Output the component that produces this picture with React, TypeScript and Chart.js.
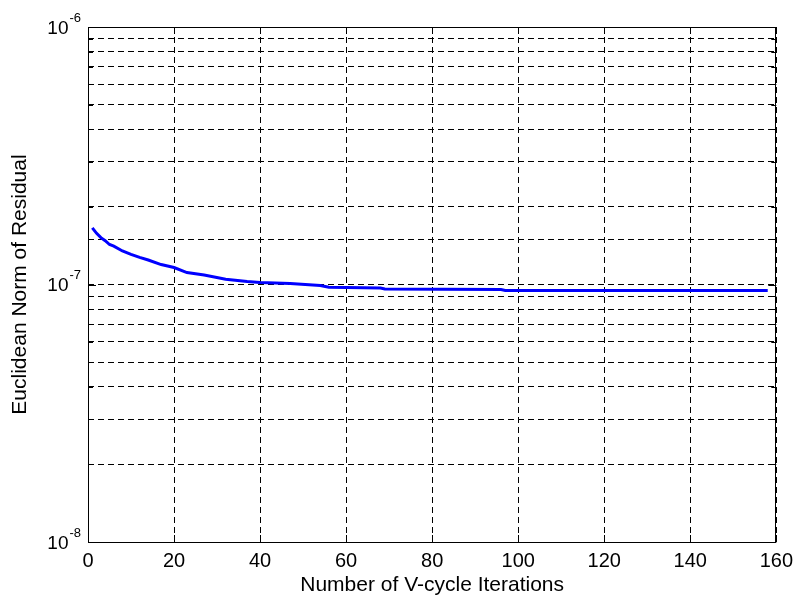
import { useEffect, useRef } from "react";
import { Chart, registerables } from "chart.js";

Chart.register(...registerables);

// Data
const iterations = [1, 2, 3, 4, 5, 6, 8, 10, 12, 14, 17, 20, 23, 27, 32, 37, 40, 47, 54, 56, 68, 69, 96, 97, 158];
const residuals = [
  1.66e-7, 1.58e-7, 1.52e-7, 1.48e-7, 1.43e-7, 1.41e-7, 1.35e-7, 1.31e-7, 1.275e-7, 1.245e-7,
  1.195e-7, 1.164e-7, 1.113e-7, 1.088e-7, 1.048e-7, 1.027e-7, 1.018e-7, 1.009e-7, 0.991e-7, 0.975e-7,
  0.969e-7, 0.96e-7, 0.956e-7, 0.948e-7, 0.948e-7,
];
const xMin = 0;
const xMax = 160;
const xStep = 20;
const yDecades = [1e-8, 1e-7, 1e-6];
const yExponents = ["-8", "-7", "-6"];
const xTitle = "Number of V-cycle Iterations";
const yTitle = "Euclidean Norm of Residual";

const FONT = 'Arial, "Liberation Sans", Helvetica, sans-serif';

const framePlugin = {
  id: "matlabFrame",
  afterDraw(chart: any) {
    const { ctx, chartArea, scales } = chart;
    const { left, right, top, bottom } = chartArea;
    ctx.save();
    ctx.strokeStyle = "#000";
    ctx.lineWidth = 1;
    ctx.setLineDash([]);
    // box
    ctx.strokeRect(Math.round(left) + 0.5, Math.round(top) + 0.5, Math.round(right - left) - 1, Math.round(bottom - top));
    // y ticks inward
    const ys = scales.y;
    ys.ticks.forEach((t: any) => {
      const v = t.value;
      const py = Math.round(ys.getPixelForValue(v)) + 0.5;
      const lg = Math.log10(v);
      const major = Math.abs(lg - Math.round(lg)) < 1e-6;
      const L = major ? 8 : 5;
      ctx.beginPath();
      ctx.moveTo(left, py);
      ctx.lineTo(left + L, py);
      ctx.moveTo(right, py);
      ctx.lineTo(right - L, py);
      ctx.stroke();
    });
    // x ticks inward
    const xs = scales.x;
    xs.ticks.forEach((t: any) => {
      const px = Math.round(xs.getPixelForValue(t.value)) + 0.5;
      ctx.beginPath();
      ctx.moveTo(px, bottom);
      ctx.lineTo(px, bottom - 7);
      ctx.moveTo(px, top);
      ctx.lineTo(px, top + 7);
      ctx.stroke();
    });
    // y decade labels with superscript exponents
    ctx.fillStyle = "#000";
    yDecades.forEach((v, i) => {
      const py = ys.getPixelForValue(v);
      ctx.font = `19px ${FONT}`;
      ctx.textAlign = "right";
      ctx.textBaseline = "alphabetic";
      ctx.fillText("10", 68.5, py + 6.6);
      ctx.font = `13px ${FONT}`;
      ctx.textAlign = "left";
      ctx.fillText(yExponents[i], 69.5, py - 5.3);
    });
    ctx.restore();
  },
};

export default function App() {
  const ref = useRef<HTMLCanvasElement | null>(null);
  useEffect(() => {
    if (!ref.current) return;
    const points = iterations.map((x, i) => ({ x, y: residuals[i] }));
    const chart = new Chart(ref.current, {
      type: "line",
      data: {
        datasets: [
          {
            data: points,
            borderColor: "#0000ff",
            backgroundColor: "#0000ff",
            borderWidth: 3,
            pointRadius: 0,
            tension: 0,
            fill: false,
          },
        ],
      },
      options: {
        animation: false,
        responsive: true,
        maintainAspectRatio: false,
        layout: { padding: { left: 0, top: 27, right: 22, bottom: 0 } },
        plugins: { legend: { display: false }, tooltip: { enabled: false } },
        scales: {
          x: {
            type: "linear",
            min: xMin,
            max: xMax,
            afterFit: (s: any) => {
              s.height = 59;
            },
            ticks: {
              stepSize: xStep,
              autoSkip: false,
              maxRotation: 0,
              padding: 7,
              color: "#000",
              font: { family: FONT, size: 20 },
            },
            grid: { color: "#000", lineWidth: 1, drawTicks: false },
            border: { display: false, dash: [6, 4] },
            title: {
              display: true,
              text: xTitle,
              color: "#000",
              font: { family: FONT, size: 21 },
              padding: { top: 0, bottom: 3 },
            },
          },
          y: {
            type: "logarithmic",
            min: 1e-8,
            max: 1e-6,
            afterFit: (s: any) => {
              s.width = 88;
            },
            ticks: { display: false, autoSkip: false },
            grid: { color: "#000", lineWidth: 1, drawTicks: false },
            border: { display: false, dash: [6, 4] },
            title: {
              display: true,
              text: yTitle,
              color: "#000",
              font: { family: FONT, size: 21 },
              padding: { top: 8, bottom: 0 },
            },
          },
        },
      },
      plugins: [framePlugin],
    });
    return () => chart.destroy();
  }, []);
  return (
    <div style={{ position: "fixed", left: 0, top: 0, width: 800, height: 601, background: "#fff" }}>
      <canvas ref={ref} />
    </div>
  );
}
